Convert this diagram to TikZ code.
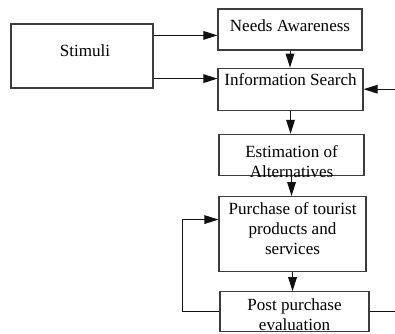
\documentclass[tikz,border=0pt]{standalone}
\usepackage{fontspec}
\setmainfont{Liberation Serif}
\usetikzlibrary{arrows.meta, positioning}
\definecolor{boxline}{HTML}{3C3C3C}
\definecolor{flowline}{HTML}{111111}

\begin{document}
\begin{tikzpicture}[
    x=0.75pt, y=-0.75pt,
    stage/.style={rectangle, draw=boxline, line width=0.9pt, inner sep=0pt, minimum width=108.75pt, minimum height=30.75pt},
    caption/.style={font=\fontsize{12.8}{15}\selectfont, align=center, inner sep=0pt, text=black},
    flow/.style={draw=flowline, line width=0.75pt, -{Triangle[length=10.5pt, width=6.5pt]}},
    plain/.style={draw=flowline, line width=0.75pt},
]
    \useasboundingbox (0,0) rectangle (395,333);
    \node[stage, minimum width=106.5pt, minimum height=48pt,
          label={[caption, xshift=2.25pt, yshift=3.75pt]center:Stimuli}] (stim) at (82,56) {};
    \node[stage, minimum width=108pt,
          label={[caption, yshift=2.6pt]center:Needs Awareness}] (needs) at (290,29.5) {};
    \node[stage, minimum height=31.5pt, below=12.75pt of needs, xshift=0.4pt,
          label={[caption, yshift=7pt]center:Information Search}] (info) {};
    \node[stage, below=17.25pt of info, xshift=0.75pt,
          label={[caption, yshift=-4.9pt]center:Estimation of\\Alternatives}] (est) {};
    \node[stage, minimum width=110.25pt, minimum height=56.25pt, below=15pt of est, xshift=0.75pt,
          label={[caption, yshift=4.1pt]center:Purchase of tourist\\products and\\services}] (purch) {};
    \node[stage, minimum width=111.75pt, minimum height=29.5pt, below=14.25pt of purch, xshift=1.5pt,
          label={[caption, yshift=-2.3pt]center:Post purchase\\evaluation}] (post) {};

    % stimuli into the first two stages
    \coordinate (stimA) at ([yshift=-9pt]stim.north east);
    \coordinate (stimB) at ([yshift=7.5pt]stim.south east);
    \draw[flow] (stimA) -- (stimA -| needs.west);
    \draw[flow] (stimB) -- (stimB -| info.west);

    % main chain
    \draw[flow] (needs.south) -- (needs.south |- info.north);
    \draw[flow] (info.south) -- (info.south |- est.north);
    \draw[flow] (est.south) -- (est.south |- purch.north);
    \draw[flow] (purch.south) -- (purch.south |- post.north);

    % feedback and outside links
    \draw[flow] (post.west) -- ++(-37,0) |- ([yshift=10.9pt]purch.west);
    \coordinate (infoIn) at (info.east -| 395,0);
    \draw[flow] (infoIn) -- (info.east);
    \coordinate (postOut) at (post.east -| 395,0);
    \draw[plain] (post.east) -- (postOut);
\end{tikzpicture}
\end{document}
